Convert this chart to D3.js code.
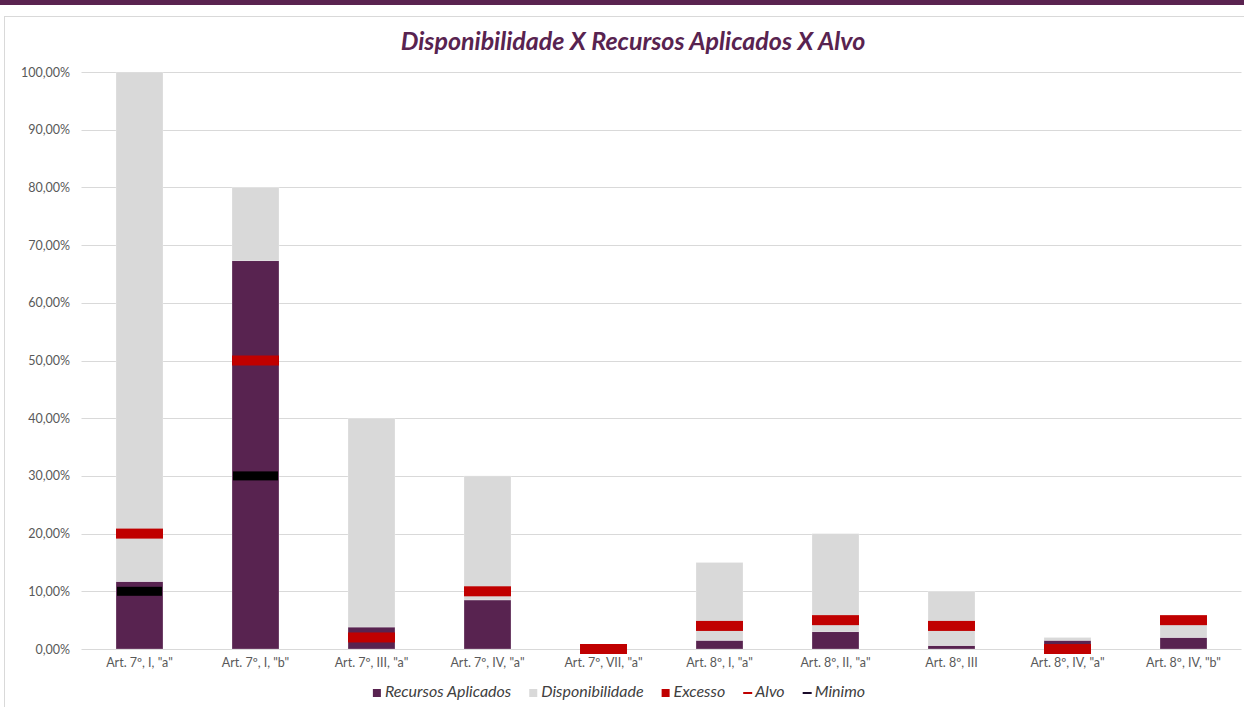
<!DOCTYPE html>
<html>
<head>
<meta charset="utf-8">
<script src="https://cdn.jsdelivr.net/npm/d3@7"></script>
<style>
  body { margin: 0; background: #fff; }
  text { font-family: Lato, "Open Sans", sans-serif; }
</style>
</head>
<body>
<div id="graph"></div>
<script>
// data (percent)
var categorias = ['Art. 7º, I, "a"', 'Art. 7º, I, "b"', 'Art. 7º, III, "a"', 'Art. 7º, IV, "a"',
  'Art. 7º, VII, "a"', 'Art. 8º, I, "a"', 'Art. 8º, II, "a"', 'Art. 8º, III',
  'Art. 8º, IV, "a"', 'Art. 8º, IV, "b"'];
var recursos = [11.7, 67.3, 3.8, 8.5, 0, 1.5, 3.0, 0.6, 1.5, 2.0];
var limite = [100, 80, 40, 30, 0, 15, 20, 10, 2.0, 5.5];
var excesso = [0, 0, 0, 0, 0, 0, 0, 0, 0, 0];
var alvo = [20, 50, 2, 10, 0, 4, 5, 4, 0, 5];
var minimo = [10, 30, null, null, null, null, null, null, null, null];
var yTicks = [0, 10, 20, 30, 40, 50, 60, 70, 80, 90, 100];

var w = 1244, h = 707;
var vis = d3.select("#graph").append("svg").attr("width", w).attr("height", h);

var roxo = "#582350", cinza = "#d9d9d9", vermelho = "#c00000";

// top strip + chart frame
vis.append("rect").attr("x", 0).attr("y", 0).attr("width", w).attr("height", 5).attr("fill", "#5a2350");
vis.append("rect").attr("x", 4.5).attr("y", 16.5).attr("width", w + 10).attr("height", h)
  .attr("fill", "#fff").attr("stroke", "#d9d9d9");

vis.append("text").attr("x", 633).attr("y", 50).attr("text-anchor", "middle")
  .attr("font-size", 25).attr("font-weight", "bold").attr("font-style", "italic")
  .attr("fill", roxo).text("Disponibilidade X Recursos Aplicados X Alvo");

var x = d3.scaleBand().domain(categorias).range([81.5, 1241.5]).paddingInner(0.595).paddingOuter(0.2975);
var y = d3.scaleLinear().domain([0, 100]).range([649, 72]);

// grid
vis.selectAll(".grid").data(yTicks).enter().append("line")
  .attr("x1", 81.5).attr("x2", 1241.5)
  .attr("y1", function(d) { return Math.round(y(d)) + 0.5; })
  .attr("y2", function(d) { return Math.round(y(d)) + 0.5; })
  .attr("stroke", "#d9d9d9").attr("stroke-width", 1);

vis.selectAll(".ylab").data(yTicks).enter().append("text")
  .attr("x", 70).attr("y", function(d) { return y(d) + 4.5; })
  .attr("text-anchor", "end").attr("font-size", 12.5).attr("fill", "#595959")
  .text(function(d) { return d.toFixed(2).replace(".", ",") + "%"; });

vis.selectAll(".xlab").data(categorias).enter().append("text")
  .attr("x", function(d) { return x(d) + x.bandwidth() / 2; })
  .attr("y", 667).attr("text-anchor", "middle").attr("font-size", 12.5).attr("fill", "#595959")
  .text(function(d) { return d; });

// stacked bars
var linhas = categorias.map(function(c, i) {
  return { cat: c, rec: recursos[i], disp: Math.max(0, limite[i] - recursos[i]), exc: excesso[i] };
});
var stack = d3.stack().keys(["rec", "disp", "exc"])(linhas);
var cores = { rec: roxo, disp: cinza, exc: vermelho };

stack.forEach(function(serie) {
  vis.selectAll(".b-" + serie.key).data(serie).enter().append("rect")
    .attr("x", function(d) { return x(d.data.cat); })
    .attr("y", function(d) { return y(d[1]); })
    .attr("width", x.bandwidth())
    .attr("height", function(d) { return y(d[0]) - y(d[1]); })
    .attr("fill", cores[serie.key])
    .attr("stroke", "rgba(255,255,255,0.35)").attr("stroke-width", 0.7);
});

// markers
var alvoPts = categorias.map(function(c, i) { return { cat: c, v: alvo[i] }; });
var minPts = categorias.map(function(c, i) { return { cat: c, v: minimo[i] }; }).filter(function(d) { return d.v !== null; });

vis.selectAll(".min").data(minPts).enter().append("rect")
  .attr("x", function(d) { return x(d.cat) + 1; })
  .attr("y", function(d) { return y(d.v) - 4.5; })
  .attr("width", x.bandwidth() - 2).attr("height", 9).attr("fill", "#000");

vis.selectAll(".alvo").data(alvoPts).enter().append("rect")
  .attr("x", function(d) { return x(d.cat); })
  .attr("y", function(d) { return y(d.v) - 5; })
  .attr("width", x.bandwidth()).attr("height", 10).attr("fill", vermelho);

// legend
var legenda = [
  { nome: "Recursos Aplicados", cor: roxo, tipo: "q" },
  { nome: "Disponibilidade", cor: cinza, tipo: "q" },
  { nome: "Excesso", cor: vermelho, tipo: "q" },
  { nome: "Alvo", cor: vermelho, tipo: "l" },
  { nome: "Minimo", cor: "#1a0a2a", tipo: "l" }
];
var lg = vis.append("g");
var lx = 0;
legenda.forEach(function(d) {
  var g = lg.append("g").attr("transform", "translate(" + lx + ",0)");
  if (d.tipo == "q") g.append("rect").attr("x", 0).attr("y", -8).attr("width", 8).attr("height", 8).attr("fill", d.cor);
  else g.append("rect").attr("x", 0).attr("y", -5).attr("width", 9).attr("height", 2).attr("fill", d.cor);
  var t = g.append("text").attr("x", 12).attr("y", 0).attr("font-size", 16).attr("font-style", "italic")
    .attr("fill", "#404040").text(d.nome);
  lx += 12 + t.node().getComputedTextLength() + 18;
});
lx -= 18;
lg.attr("transform", "translate(" + (619 - lx / 2) + ",697)");
</script>
</body>
</html>
